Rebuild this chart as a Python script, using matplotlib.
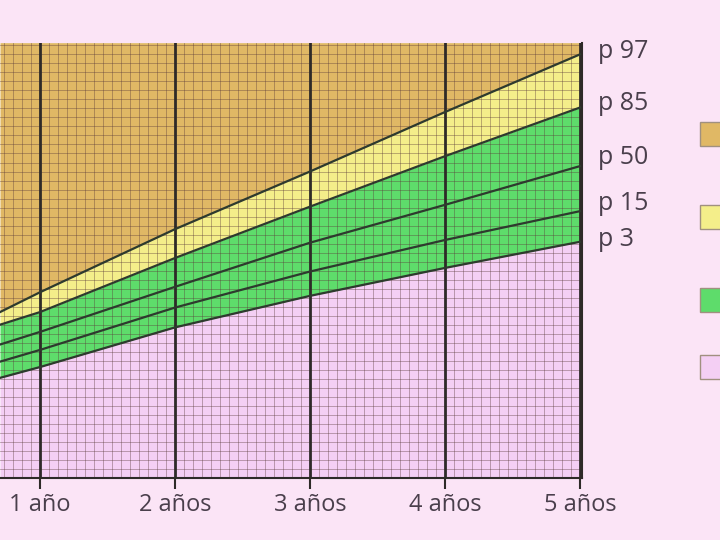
import matplotlib.pyplot as plt
import matplotlib.patches as mpatches
import numpy as np

plt.rcParams['font.family'] = ['Open Sans', 'DejaVu Sans']

# edad en años (borde izquierdo recortado)
edad = [0.704, 1, 2, 3, 4, 5]
p97 = [18.4, 20.6, 27.6, 34.0, 40.6, 47.0]
p85 = [17.0, 18.4, 24.4, 30.1, 35.7, 41.1]
p50 = [14.8, 16.2, 21.2, 26.1, 30.3, 34.6]
p15 = [12.9, 14.2, 18.9, 22.9, 26.4, 29.6]
p3 = [11.1, 12.3, 16.7, 20.2, 23.3, 26.2]
etiquetas = ["p 97", "p 85", "p 50", "p 15", "p 3"]
ticks_x = [1, 2, 3, 4, 5]
ticks_lbl = ["1 año", "2 años", "3 años", "4 años", "5 años"]

bg = "#fbe4f6"
c_brown, c_yellow, c_green, c_pink = "#e0b865", "#f4ee8a", "#5edc6b", "#f4cff4"
txt = "#4a3f4c"
ytop = 48.3

fig = plt.figure(figsize=(7.2, 5.4), dpi=100, facecolor=bg)
ax = fig.add_axes([0, 0.115, 582 / 720, 0.806])
ax.set_xlim(0.704, 5.015)
ax.set_ylim(0, ytop)

ax.fill_between(edad, 0, p3, color=c_pink, lw=0)
ax.fill_between(edad, p3, p85, color=c_green, lw=0)
ax.fill_between(edad, p85, p97, color=c_yellow, lw=0)
ax.fill_between(edad, p97, ytop, color=c_brown, lw=0)

# papel milimetrado
for xv in np.arange(1 - 4 / 15, 5.01, 1 / 15):
    ax.axvline(xv, color="#5a3a3a", lw=0.6, alpha=0.45, zorder=2)
for yv in np.arange(0, ytop, 1.0):
    ax.axhline(yv, color="#5a3a3a", lw=0.6, alpha=0.45, zorder=2)
for xv in ticks_x:
    ax.axvline(xv, color="#2e2a28", lw=2, zorder=3)

for serie in [p97, p85, p50, p15, p3]:
    ax.plot(edad, serie, color="#2e3a2e", lw=1.6, zorder=4)

ax.set_xticks(ticks_x)
ax.set_xticklabels(ticks_lbl, fontsize=17, color=txt)
ax.tick_params(axis="x", length=8, width=1.5, color="#2e2a28", pad=3)
ax.set_yticks([])
for s in ["left", "top"]:
    ax.spines[s].set_visible(False)
ax.spines["bottom"].set_linewidth(1.5)
ax.spines["right"].set_linewidth(1.5)
ax.spines["bottom"].set_color("#2e2a28")
ax.spines["right"].set_color("#2e2a28")

lbl_y = [488, 437, 383, 336, 300]
for t, py in zip(etiquetas, lbl_y):
    fig.text(598 / 720, py / 540, t, fontsize=18, color=txt, va="center")

for c, py in zip([c_brown, c_yellow, c_green, c_pink], [122, 205, 288, 355]):
    fig.patches.append(mpatches.Rectangle((700 / 720, (540 - py - 24) / 540), 30 / 720, 24 / 540,
                                          transform=fig.transFigure, facecolor=c,
                                          edgecolor="#a09080", lw=1))

fig.savefig("out.png", dpi=100, facecolor=bg)
